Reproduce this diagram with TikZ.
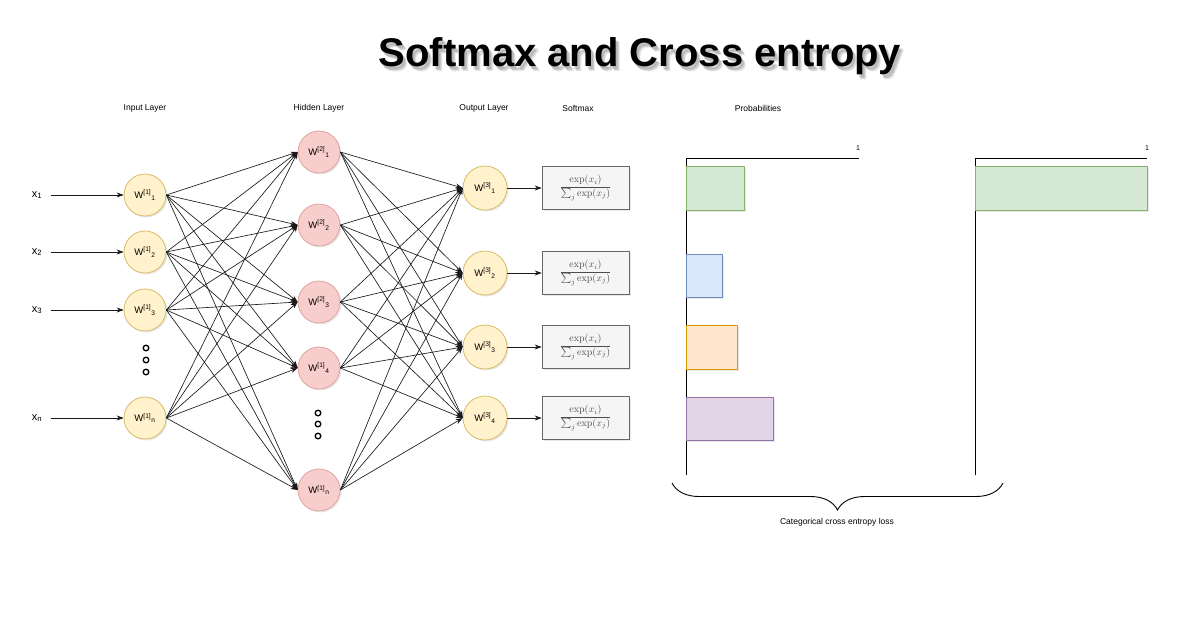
\documentclass[tikz,border=0pt]{standalone}
\usepackage{amsmath}
\usepackage[no-math]{fontspec}
\setmainfont{Liberation Sans}
\usetikzlibrary{arrows.meta,positioning,shadows,decorations.pathreplacing}
\definecolor{inyellow} {HTML}{FFF2CC}
\definecolor{inedge}   {HTML}{D6B656}
\definecolor{hidred}   {HTML}{F8CECC}
\definecolor{hidedge}  {HTML}{B85450}
\definecolor{smgray}   {HTML}{F5F5F5}
\definecolor{smedge}   {HTML}{666666}
\definecolor{bargreen} {HTML}{D5E8D4}
\definecolor{greenedge}{HTML}{82B366}
\definecolor{barblue}  {HTML}{DAE8FC}
\definecolor{blueedge} {HTML}{6C8EBF}
\definecolor{barorange}{HTML}{FFE6CC}
\definecolor{orangeedge}{HTML}{D79B00}
\definecolor{barpurple}{HTML}{E1D5E7}
\definecolor{purpleedge}{HTML}{9673A6}
\newcommand{\wlab}[2]{W\textsuperscript{[#1]}\textsubscript{#2}}
\newcommand{\smfrac}{$\dfrac{\exp(x_i)}{\sum_j \exp(x_j)}$}
\tikzset{
  softshadow/.style={drop shadow={opacity=0.18,shadow xshift=1.5pt,shadow yshift=-1.5pt}},
  neuron/.style={circle,inner sep=0pt,minimum size=42pt,line width=0.7pt,softshadow,font=\fontsize{9.5}{10}\selectfont},
  innode/.style={neuron,draw=inedge,fill=inyellow},
  hidnode/.style={neuron,draw=hidred!60!hidedge,fill=hidred},
  outnode/.style={neuron,draw=inedge,fill=inyellow,minimum size=44pt},
  smbox/.style={draw=smedge,fill=smgray,line width=0.6pt,minimum width=87pt,minimum height=43pt,inner sep=0pt,softshadow,text=black!70,font=\fontsize{10}{12}\selectfont},
  layerlab/.style={font=\fontsize{8.5}{10}\selectfont},
  xlab/.style={font=\fontsize{11}{12}\selectfont,inner sep=1pt},
  link/.style={-{Stealth[length=7pt,width=5pt]},line width=0.65pt,black!90},
  bar/.style={line width=0.7pt,softshadow}
}
\begin{document}
\begin{tikzpicture}[x=1pt,y=-1pt]
  \useasboundingbox[fill=white] (0,0) rectangle (1200,630);
  % title with blurred shadow
  \foreach \dx/\dy [count=\k] in {2/3,4/5,3/4}
    \node[anchor=base,font=\fontsize{40}{48}\selectfont\bfseries,text=black,opacity=0.1] (ts\k) at (640+\dx,66+\dy) {Softmax and Cross entropy};
  \node[anchor=base,font=\fontsize{40}{48}\selectfont\bfseries] (title) at (640,66) {Softmax and Cross entropy};
  % layer captions
  \node[layerlab] (capin)  at (145,108) {Input Layer};
  \node[layerlab] (caphid) at (319,108) {Hidden Layer};
  \node[layerlab] (capout) at (484,108) {Output Layer};
  \node[layerlab] (capsm)  at (578,108) {Softmax};
  \node[layerlab] (cappr)  at (758,108) {Probabilities};
  % input layer
  \foreach \y/\s [count=\k] in {195/1,252/2,310/3,418/n} {
    \node[innode] (i\k) at (145,\y) {\wlab{1}{\s}};
    \node[xlab] (x\k) at (37,\y) {x\textsubscript{\s}};
    \draw[link] ([xshift=8pt]x\k.east) -- (i\k.west);
  }
  \foreach \y in {348,360,372}
    \draw[line width=1.3pt] (146,\y) circle (2.8);
  % hidden layer
  \foreach \y/\l/\s [count=\k] in {152/2/1,225/2/2,302/2/3,368/1/4,490/1/n}
    \node[hidnode] (h\k) at (319,\y) {\wlab{\l}{\s}};
  \foreach \y in {413,424,436}
    \draw[line width=1.3pt] (318,\y) circle (2.8);
  % output layer and softmax
  \foreach \y [count=\k] in {188,273,347,418} {
    \node[outnode] (o\k) at (485,\y) {\wlab{3}{\k}};
    \node[smbox] (s\k) at (585.5,\y) {\smfrac};
    \draw[link] (o\k.east) -- (s\k.west);
  }
  % dense connections
  \foreach \a in {1,...,4}
    \foreach \b in {1,...,5}
      \draw[link] (i\a.east) -- (h\b.west);
  \foreach \a in {1,...,5}
    \foreach \b in {1,...,4}
      \draw[link] (h\a.east) -- (o\b.west);
  % probability charts
  \draw[line width=0.7pt] (686,475) -- (686,158) -- (859,158);
  \node[font=\fontsize{7}{8}\selectfont] (one1) at (858,148) {1};
  \draw[bar,draw=greenedge,fill=bargreen]   (686,166) rectangle (744,210);
  \draw[bar,draw=blueedge,fill=barblue]     (686,254) rectangle (722,297);
  \draw[bar,draw=orangeedge,fill=barorange] (686,325) rectangle (737,369);
  \draw[bar,draw=purpleedge,fill=barpurple] (686,397) rectangle (773,440);
  \draw[line width=0.7pt] (975,475) -- (975,158) -- (1147,158);
  \node[font=\fontsize{7}{8}\selectfont] (one2) at (1147,148) {1};
  \draw[bar,draw=greenedge,fill=bargreen]   (975,166) rectangle (1147,210);
  % loss brace
  \coordinate (bl) at (672,483);
  \coordinate (br) at (1003,483);
  \draw[line width=0.9pt,decorate,decoration={brace,mirror,amplitude=27pt}] (bl) -- (br);
  \node[layerlab] (loss) at (837,522) {Categorical cross entropy loss};
\end{tikzpicture}
\end{document}
